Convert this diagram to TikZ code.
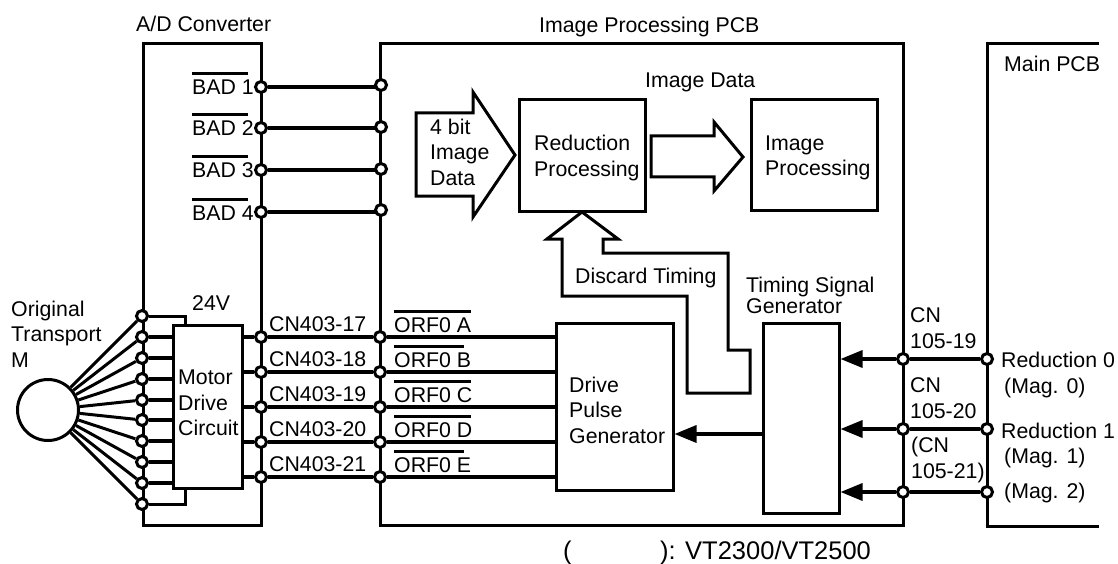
\documentclass[tikz,border=0pt]{standalone}
\usepackage{fontspec}
\setmainfont{Liberation Sans}
\usetikzlibrary{arrows.meta,backgrounds}
\tikzset{
  lab/.style={anchor=west,inner sep=0pt,align=left,font=\fontsize{21.3}{25.5}\selectfont},
  txt/.style={anchor=base west,inner sep=0pt,font=\fontsize{21.3}{25}\selectfont},
  term/.style={circle,draw,fill=white,line width=3pt,minimum size=11pt,inner sep=0pt},
  blockbox/.style={draw,fill=white,line width=3pt,inner sep=0pt},
  frame/.style={line width=3pt,line join=miter},
  wire/.style={line width=3.4pt},
  thin wire/.style={line width=3pt},
  sig/.style={line width=3.4pt,-{Triangle[length=22pt,width=17pt]}},
  bigarrow/.style={draw,fill=white,line width=3pt,line join=miter},
  bar/.style={line width=3pt}
}
\newcommand{\blockat}[6]{\node[blockbox,minimum width=#4pt-#2pt,minimum height=#5pt-#3pt] (#1) at ({(#2+#4)/2},{(#3+#5)/2}) {#6};}
\begin{document}
\begin{tikzpicture}[x=1pt,y=-1pt]
\useasboundingbox (0,0) rectangle (1118,564);

% blocks
\blockat{reduction}{519}{100}{645}{211}{}
\blockat{imgproc}{751}{100}{877}{210}{}
\blockat{mdc}{173}{325}{242}{488}{}
\blockat{drive}{556}{323}{673}{490}{}
\blockat{tsg}{763}{323}{839}{513}{}
\node[circle,draw,line width=3pt,minimum size=61pt,inner sep=0pt] (motor) at (48,410) {};

% terminals
\foreach \n/\y in {1/87,2/128,3/170,4/212} \node[term] (a\n) at (261,\y) {};
\foreach \n/\y in {1/85,2/127,3/169,4/210} \node[term] (b\n) at (381,\y) {};
\foreach \n/\y in {1/316,2/337,3/358,4/379,5/400,6/420,7/441,8/462,9/483,10/504} \node[term] (c\n) at (142,\y) {};
\foreach \n/\y in {1/337,2/372,3/407,4/442,5/477} {
  \node[term] (l\n) at (261,\y) {};
  \node[term] (r\n) at (380,\y) {};
}
\foreach \n/\y in {1/359,2/429,3/492} {
  \node[term] (p\n) at (903,\y) {};
  \node[term] (m\n) at (987,\y) {};
}

% frames and connectors below the terminals
\begin{scope}[on background layer]
  \draw[frame] (143,525) -- (143,44) -- (261,44) -- (261,525) -- cycle;
  \draw[frame] (380,525) -- (380,44) -- (903,44) -- (903,525) -- cycle;
  \draw[frame] (1099,44) -- (987,44) -- (987,526) -- (1099,526);
  \foreach \n in {1,2,3,4} \draw[wire] (a\n) -- (a\n -| b\n);
  \foreach \n in {1,...,10} \draw[thin wire] (motor) -- (c\n);
  \foreach \n in {2,...,9} \draw[wire] (c\n) -- (c\n -| mdc.west);
  \draw[thin wire] (c1) -| (mdc.north -| 185,0);
  \draw[thin wire] (c10) -| (mdc.south -| 185,0);
  \foreach \n in {1,...,5} {
    \draw[wire] (mdc.east |- l\n) -- (l\n);
    \draw[wire] (l\n) -- (r\n);
    \draw[wire] (r\n) -- (r\n -| drive.west);
  }
  \foreach \n in {1,2,3} {
    \draw[wire] (m\n) -- (p\n);
    \draw[sig] (p\n) -- (p\n -| tsg.east);
  }
\end{scope}
\draw[sig] (tsg.west |- 0,434) -- (drive.east |- 0,434);

% hollow arrows
\draw[bigarrow] (416,113) -- (473,113) -- (473,92) -- (515,155) -- (473,217) -- (473,196) -- (416,196) -- cycle;
\draw[bigarrow] (651,136) -- (714,136) -- (714,122) -- (743,157) -- (714,191) -- (714,177) -- (651,177) -- cycle;
\draw[bigarrow] (582,212) -- (618,239) -- (603,239) -- (603,253) -- (728,253) -- (728,350) -- (750,350) -- (750,393) -- (687,393) -- (687,296) -- (562,296) -- (562,239) -- (547,239) -- cycle;

% labels
\node[txt] (tad) at (136,32) {A/D Converter};
\node[txt] (tpcb) at (539,33) {Image Processing PCB};
\node[txt] (tmain) at (1004,72) {Main PCB};
\node[txt] (tid) at (645,88) {Image Data};
\node[lab] (tbit) at (430,152) {4 bit\\Image\\Data};
\node[lab] (tred) at (534,158) {Reduction\\Processing};
\node[lab] (tip) at (765,158) {Image\\Processing};
\node[txt] (tdisc) at (575,283) {Discard Timing};
\node[lab] (torig) at (11,334) {Original\\Transport\\M};
\node[txt] (t24) at (192,310) {24V};
\node[lab] (tmdc) at (178,403) {Motor\\Drive\\Circuit};
\node[lab] (tdpg) at (569,410) {Drive\\Pulse\\Generator};
\node[lab,font=\fontsize{21.3}{21}\selectfont] (ttsg) at (746,295) {Timing Signal\\Generator};
\foreach \n/\s/\y in {1/1/95,2/2/136,3/3/178,4/4/220} {
  \node[txt] (tb\n) at (192,\y) {BAD \s};
  \draw[bar] (tb\n.base west) ++(0,-21) -- ++(56,0);
}
\foreach \n/\s/\y in {1/17/331,2/18/366,3/19/401,4/20/436,5/21/471} \node[txt] (tcn\n) at (269,\y) {CN403-\s};
\foreach \n/\s/\y/\w in {1/A/332/77,2/B/367/70,3/C/402/77,4/D/437/77,5/E/472/70} {
  \node[txt] (tor\n) at (394,\y) {ORF0 \s};
  \draw[bar] (tor\n.base west) ++(0,-21) -- ++(\w,0);
}
\node[lab] (tc1) at (910,328) {CN\\105-19};
\node[lab] (tc2) at (910,398) {CN\\105-20};
\node[lab] (tc3) at (911,460) {(CN\\105-21)};
\node[txt] (tr0) at (1001,367) {Reduction 0};
\node[txt] (tm0) at (1004,393) {(Mag. 0)};
\node[txt] (tr1) at (1001,438) {Reduction 1};
\node[txt] (tm1) at (1004,463) {(Mag. 1)};
\node[txt] (tm2) at (1004,498) {(Mag. 2)};
\node[txt,font=\fontsize{25.5}{25}\selectfont] (tfa) at (563,559) {(};
\node[txt,font=\fontsize{25.5}{25}\selectfont] (tfb) at (660,559) {): VT2300/VT2500};
\end{tikzpicture}
\end{document}
